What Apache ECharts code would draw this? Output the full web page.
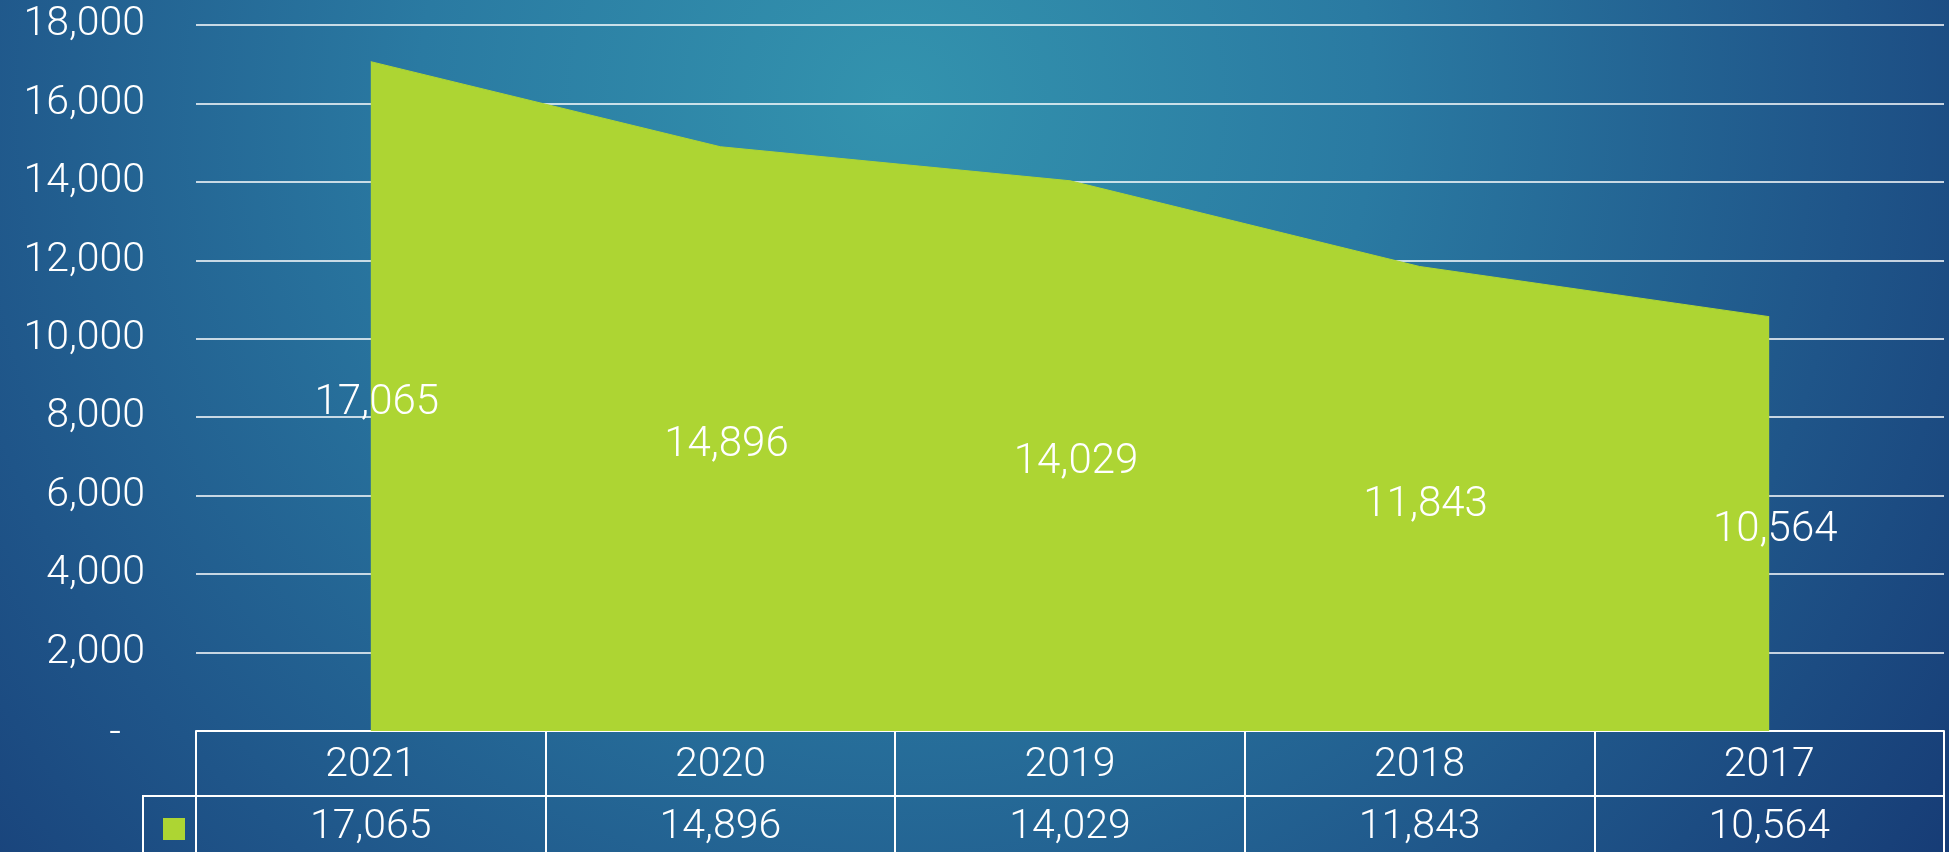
<!DOCTYPE html>
<html>
<head>
<meta charset="utf-8">
<script src="https://cdn.jsdelivr.net/npm/echarts@6/dist/echarts.min.js"></script>
<style>
html,body{margin:0;padding:0;width:1949px;height:852px;overflow:hidden;}
#c{width:1949px;height:852px;}
</style>
</head>
<body>
<div id="c"></div>
<script>
const years = ['2021', '2020', '2019', '2018', '2017'];
const values = [17065, 14896, 14029, 11843, 10564];
const yTicks = { min: 0, max: 18000, interval: 2000 };

const FONT = 'Roboto';
const FS = 41;
const fmt = v => Number(v).toLocaleString('en-US');

const chart = echarts.init(document.getElementById('c'));
chart.setOption({
  backgroundColor: {
    type: 'radial', x: 0.46, y: 0.12, r: 1.6,
    colorStops: [
      { offset: 0, color: '#3393ae' },
      { offset: 0.35, color: '#2a7aa2' },
      { offset: 0.7, color: '#1f5589' },
      { offset: 1, color: '#153772' }
    ]
  },
  animation: false,
  textStyle: { fontFamily: FONT, fontWeight: 300 },
  grid: { left: 196, right: 5, top: 25, bottom: 121, containLabel: false },
  legend: {
    data: ['Series'],
    left: 158, top: 813,
    icon: 'rect', itemWidth: 22, itemHeight: 22,
    formatter: () => '',
    itemGap: 0,
    selectedMode: false
  },
  xAxis: [
    {
      type: 'category', data: years, position: 'bottom', boundaryGap: true,
      axisLine: { show: true, lineStyle: { color: '#ffffff', width: 2 } },
      axisTick: { show: true, length: 65, lineStyle: { color: '#ffffff', width: 2 } },
      axisLabel: { color: '#ffffff', fontSize: FS, fontFamily: FONT, fontWeight: 300, margin: 14 },
      splitLine: { show: false }
    },
    {
      type: 'category', data: values.map(fmt), position: 'bottom', offset: 65, boundaryGap: true,
      axisLine: { show: true, lineStyle: { color: '#ffffff', width: 2 } },
      axisTick: { show: true, length: 70, lineStyle: { color: '#ffffff', width: 2 } },
      axisLabel: { color: '#ffffff', fontSize: FS, fontFamily: FONT, fontWeight: 300, margin: 11 },
      splitLine: { show: false }
    }
  ],
  yAxis: {
    type: 'value', min: yTicks.min, max: yTicks.max, interval: yTicks.interval,
    axisLine: { show: false }, axisTick: { show: false },
    splitLine: { show: true, lineStyle: { color: '#ffffff', width: 1.6 } },
    axisLabel: {
      color: '#ffffff', fontSize: FS, fontFamily: FONT, fontWeight: 300, margin: 51,
      formatter: v => v === 0 ? '{z|-}' : fmt(v),
      rich: { z: { color: '#ffffff', fontSize: FS, fontFamily: FONT, fontWeight: 300, padding: [8, 24, 0, 0] } }
    }
  },
  series: [
    {
      name: 'Series', type: 'line', data: values, xAxisIndex: 0,
      showSymbol: false, symbol: 'none',
      itemStyle: { color: '#add533' },
      lineStyle: { color: '#add533', width: 1 },
      areaStyle: { color: '#add533', opacity: 1 },
      z: 2
    },
    {
      name: 'labels', type: 'bar', data: values, xAxisIndex: 0,
      barWidth: 10,
      itemStyle: { color: 'rgba(0,0,0,0)' },
      label: {
        show: true, position: 'inside', offset: [6, 7],
        color: '#ffffff', fontSize: 42, fontFamily: FONT, fontWeight: 300,
        formatter: p => fmt(p.value)
      },
      z: 3
    }
  ],
  graphic: [
    {
      type: 'polyline', silent: true,
      shape: { points: [[143, 860], [143, 796], [196, 796]] },
      style: { stroke: '#ffffff', lineWidth: 2, fill: null }
    }
  ]
});
</script>
</body>
</html>
